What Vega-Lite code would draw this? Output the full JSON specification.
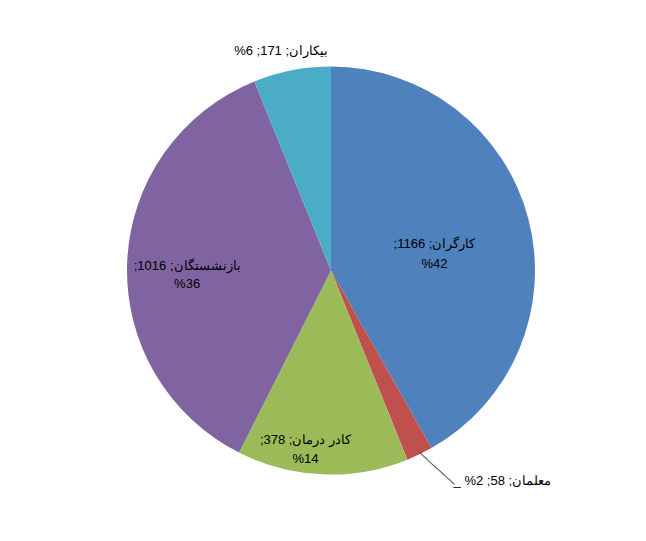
{
  "$schema": "https://vega.github.io/schema/vega-lite/v6.json",
  "width": 630,
  "height": 541,
  "autosize": "none",
  "padding": {"left": 16, "top": 0, "right": 0, "bottom": 0},
  "background": "white",
  "config": {"view": {"stroke": null}},
  "data": {
    "values": [
      {"name": "کارگران", "value": 1166, "idx": 1, "label": ";1166 ;کارگران\n%42"},
      {"name": "معلمان", "value": 58, "idx": 2, "label": "_ %2 ;58 ;معلمان"},
      {"name": "کادر درمان", "value": 378, "idx": 3, "label": ";378 ;کادر درمان\n%14"},
      {"name": "بازنشستگان", "value": 1016, "idx": 4, "label": ";1016 ;بازنشستگان\n%36"},
      {"name": "بیکاران", "value": 171, "idx": 5, "label": "%6 ;171 ;بیکاران"}
    ]
  },
  "encoding": {
    "theta": {"field": "value", "type": "quantitative", "stack": true},
    "order": {"field": "idx", "type": "quantitative"},
    "detail": {"field": "name", "type": "nominal"}
  },
  "layer": [
    {
      "mark": {"type": "arc", "outerRadius": 204},
      "encoding": {
        "color": {
          "field": "name",
          "type": "nominal",
          "scale": {
            "domain": ["کارگران", "معلمان", "کادر درمان", "بازنشستگان", "بیکاران"],
            "range": ["#4F81BD", "#C0504D", "#9BBB59", "#8064A2", "#4BACC6"]
          },
          "legend": null
        }
      }
    },
    {
      "mark": {"type": "text", "radius": 107, "dy": 1, "font": "Liberation Sans", "fontSize": 13, "lineBreak": "\n", "lineHeight": 20, "color": "#000000", "align": "center", "baseline": "middle"},
      "encoding": {"text": {"condition": {"test": "datum.name === 'کارگران'", "field": "label"}, "value": ""}}
    },
    {
      "mark": {"type": "text", "radius": 144, "dy": 1, "font": "Liberation Sans", "fontSize": 13, "lineBreak": "\n", "lineHeight": 18, "color": "#000000", "align": "center", "baseline": "middle"},
      "encoding": {"text": {"condition": {"test": "datum.name === 'بازنشستگان'", "field": "label"}, "value": ""}}
    },
    {
      "mark": {"type": "text", "radius": 180, "dx": -18, "dy": -10, "font": "Liberation Sans", "fontSize": 13, "lineBreak": "\n", "lineHeight": 19, "color": "#000000", "align": "center", "baseline": "middle"},
      "encoding": {"text": {"condition": {"test": "datum.name === 'کادر درمان'", "field": "label"}, "value": ""}}
    },
    {
      "mark": {"type": "text", "radius": 224, "dx": -7, "dy": 0, "font": "Liberation Sans", "fontSize": 13, "color": "#000000", "align": "center", "baseline": "middle"},
      "encoding": {"text": {"condition": {"test": "datum.name === 'بیکاران'", "field": "label"}, "value": ""}}
    },
    {
      "mark": {"type": "text", "radius": 220, "dx": 27, "dy": 12, "font": "Liberation Sans", "fontSize": 13, "color": "#000000", "align": "left", "baseline": "middle"},
      "encoding": {"text": {"condition": {"test": "datum.name === 'معلمان'", "field": "label"}, "value": ""}}
    },
    {
      "mark": {"type": "text", "radius": 225, "angle": 42.4, "dx": 2.6, "dy": -10, "font": "Liberation Sans", "fontSize": 12, "color": "#333333", "align": "center", "baseline": "middle"},
      "encoding": {"text": {"condition": {"test": "datum.name === 'معلمان'", "value": "————"}, "value": ""}}
    }
  ]
}
